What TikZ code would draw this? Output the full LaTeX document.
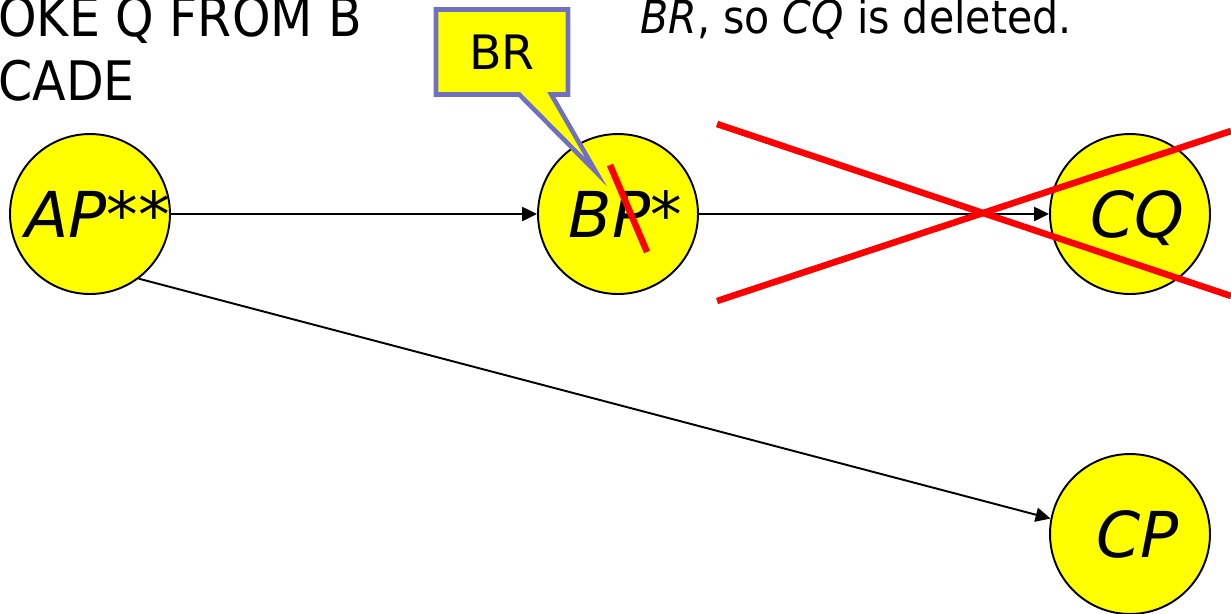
\documentclass[tikz,border=0pt]{standalone}
\usepackage{fontspec}
\setmainfont{DejaVu Sans}[FakeStretch=0.9]
\newfontfamily\wideface{DejaVu Sans}
\usetikzlibrary{arrows.meta,shapes.callouts,positioning}
\definecolor{noteblue}{RGB}{112,112,192}
\definecolor{txyellow}{RGB}{255,255,0}
\definecolor{strikered}{RGB}{255,0,0}
\newcommand\txlabel[1]{\makebox[0pt]{\hspace{0.3cm}#1}}

\begin{document}
\begin{tikzpicture}[x=0.02cm,y=-0.02cm,
    txnode/.style={circle, draw, line width=1.1pt, fill=txyellow, minimum size=3.2cm,
      inner sep=0pt, text depth=0pt, font=\wideface\fontsize{36}{40}\selectfont\itshape},
    link/.style={-{Triangle[length=8.5pt,width=8pt]}, line width=1.1pt},
    strike/.style={strikered, line width=3.7pt},
    banner/.style={font=\fontsize{31}{36}\selectfont, inner sep=0pt}]
        \useasboundingbox (0,0) rectangle (1231,613);
        % heading, cut off by the frame
        \node[banner, anchor=base west] (headl) at (-2,36) {OKE Q FROM B};
        \node[banner, anchor=base west] (headll) at (-2,100) {CADE};
        \node[banner, font=\fontsize{26}{30}\selectfont, anchor=base west] (headr) at (640,33) {\textit{BR}, so \textit{CQ} is deleted.};
        % transactions
        \node[txnode] (ap) at (90,214) {\txlabel{AP**}};
        \node[txnode] (bp) at (618,214) {\txlabel{BP*}};
        \node[txnode] (cq) at (1130,214) {\txlabel{CQ}};
        \node[txnode] (cp) at (1130,534) {\txlabel{CP}};
        \draw[link] (ap) -- (bp);
        \draw[link] (bp) -- (cq);
        \draw[link] (ap.-53) -- (cp.169);
        % crossed out
        \draw[strike] (610,165) -- (647,252);
        \draw[strike] (717,124) -- (1231,296);
        \draw[strike] (717,301) -- (1231,131);
        % note
        \node[rectangle callout, draw=noteblue, line width=2.6pt, fill=txyellow,
          minimum width=2.64cm, minimum height=1.7cm, font=\wideface\fontsize{27}{30}\selectfont,
          callout absolute pointer={(596,172)}, callout pointer width=0.64cm] (brnote) at (502,52) {BR};
      \end{tikzpicture}
\end{document}
